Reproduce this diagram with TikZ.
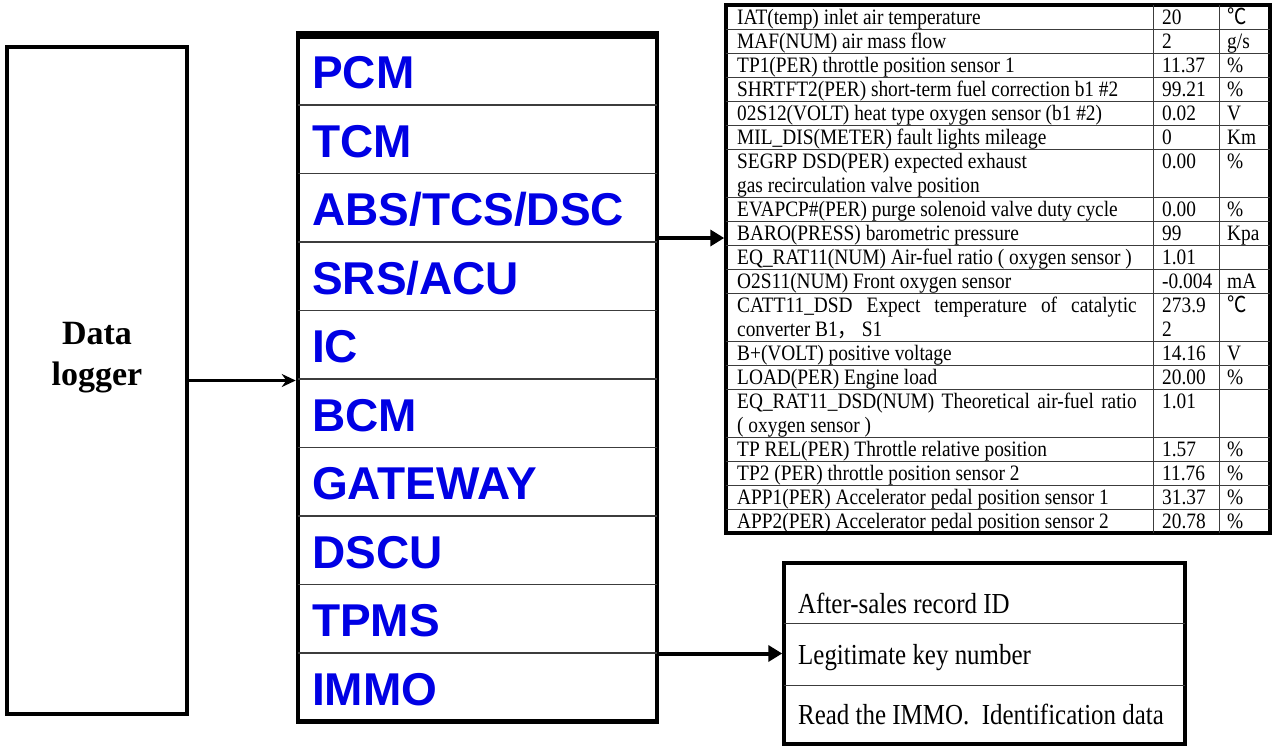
\documentclass[tikz,border=0pt]{standalone}
\usepackage{fontspec}
\setmainfont{Liberation Serif}
\newfontfamily\modfont{Liberation Sans}
\newfontfamily\cjk{Noto Sans CJK SC}
\usetikzlibrary{arrows.meta}
\definecolor{modblue}{RGB}{0,0,228}
\definecolor{rulegray}{RGB}{60,60,60}
\newcommand\nar[1]{\scalebox{0.88}[1]{#1}}
\newcommand\bnar[1]{\scalebox{0.86}[1]{#1}}
\newcommand\degc{{\cjk ℃}}
\newcommand\tabrow[5]{%
  \node[cell] (#1a) at (737,{24+24*#2}) {\nar{#3}};
  \node[cell] (#1b) at (1162,{24+24*#2}) {\nar{#4}};
  \node[cell] (#1c) at (1227,{24+24*#2}) {\nar{#5}};}
\begin{document}
\begin{tikzpicture}[x=1pt,y=-1pt,
  frame/.style={draw, line width=4pt, inner sep=0pt},
  sepline/.style={draw=rulegray, line width=1.4pt},
  thinline/.style={draw=rulegray, line width=1pt},
  modlabel/.style={anchor=base west, inner sep=0pt, text=modblue, font=\modfont\bfseries\fontsize{46}{46}\selectfont},
  cell/.style={anchor=base west, inner sep=0pt, font=\fontsize{22}{24}\selectfont},
  boxtext/.style={anchor=base west, inner sep=0pt, font=\fontsize{29}{32}\selectfont},
  dltext/.style={anchor=base, inner sep=0pt, font=\bfseries\fontsize{34}{40}\selectfont},
  bigarrow/.style={line width=4pt, -{Triangle[length=14pt,width=16pt]}},
  smallarrow/.style={line width=3.5pt, -{Stealth[length=14pt,width=13pt]}},
]
\useasboundingbox (0,0) rectangle (1272,747);

% Data logger
\node[frame, minimum width=180pt, minimum height=667pt] (dl) at (97,380.5) {};
\node[dltext] (dl1) at (97,344) {Data};
\node[dltext] (dl2) at (97,385) {logger};

% module stack
\node[frame, line width=4.5pt, minimum width=359pt, minimum height=685pt] (stack) at (477.5,379) {};
\draw[line width=7pt] (stack.north west) -- (stack.north east);
\foreach \k in {1,...,9} \draw[sepline] (298,{36.5+68.5*\k}) -- (657,{36.5+68.5*\k});
\node[modlabel] (pcm) at (312,88.5) {PCM};
\node[modlabel] (tcm) at (312,157) {TCM};
\node[modlabel] (abs) at (312,225.5) {ABS/TCS/DSC};
\node[modlabel] (srs) at (312,294) {SRS/ACU};
\node[modlabel] (ic) at (312,362.5) {IC};
\node[modlabel] (bcm) at (312,431) {BCM};
\node[modlabel] (gw) at (312,499.5) {GATEWAY};
\node[modlabel] (dscu) at (312,568) {DSCU};
\node[modlabel] (tpms) at (312,636.5) {TPMS};
\node[modlabel] (immo) at (312,705) {IMMO};

\draw[smallarrow] (dl.east) -- (dl.east -| stack.west);

% data table
\node[draw, line width=3.5pt, inner sep=0pt, minimum width=544pt, minimum height=528pt] (tbl) at (998,269) {};
\draw[thinline] (1153,5) -- (1153,533);
\draw[thinline] (1219,5) -- (1219,533);
\foreach \u in {1,2,3,4,5,6,8,9,10,11,12,14,15,16,18,19,20,21}
  \draw[thinline] (726,{5+24*\u}) -- (1270,{5+24*\u});

\tabrow{r1}{0}{IAT(temp) inlet air temperature}{20}{\degc}
\tabrow{r2}{1}{MAF(NUM) air mass flow}{2}{g/s}
\tabrow{r3}{2}{TP1(PER) throttle position sensor 1}{11.37}{\%}
\tabrow{r4}{3}{SHRTFT2(PER) short-term fuel correction b1 \#2}{99.21}{\%}
\tabrow{r5}{4}{02S12(VOLT) heat type oxygen sensor (b1 \#2)}{0.02}{V}
\tabrow{r6}{5}{MIL\_DIS(METER) fault lights mileage}{0}{Km}
\tabrow{r7}{6}{SEGRP DSD(PER) expected exhaust}{0.00}{\%}
\node[cell] (r7d) at (737,{24+24*7}) {\nar{gas recirculation valve position}};
\tabrow{r8}{8}{EVAPCP\#(PER) purge solenoid valve duty cycle}{0.00}{\%}
\tabrow{r9}{9}{BARO(PRESS) barometric pressure}{99}{Kpa}
\tabrow{r10}{10}{EQ\_RAT11(NUM) Air-fuel ratio ( oxygen sensor )}{1.01}{}
\tabrow{r11}{11}{O2S11(NUM) Front oxygen sensor}{-0.004}{mA}
\tabrow{r12}{12}{\makebox[454pt][s]{CATT11\_DSD Expect temperature of catalytic}}{273.9}{\degc}
\node[cell] (r12d) at (737,{24+24*13}) {\nar{converter B1{\cjk ，} S1}};
\node[cell] (r12e) at (1162,{24+24*13}) {\nar{2}};
\tabrow{r13}{14}{B+(VOLT) positive voltage}{14.16}{V}
\tabrow{r14}{15}{LOAD(PER) Engine load}{20.00}{\%}
\tabrow{r15}{16}{\makebox[454pt][s]{EQ\_RAT11\_DSD(NUM) Theoretical air-fuel ratio}}{1.01}{}
\node[cell] (r15d) at (737,{24+24*17}) {\nar{( oxygen sensor )}};
\tabrow{r16}{18}{TP REL(PER) Throttle relative position}{1.57}{\%}
\tabrow{r17}{19}{TP2 (PER) throttle position sensor 2}{11.76}{\%}
\tabrow{r18}{20}{APP1(PER) Accelerator pedal position sensor 1}{31.37}{\%}
\tabrow{r19}{21}{APP2(PER) Accelerator pedal position sensor 2}{20.78}{\%}

\path (tbl.west) ++(0,-31) coordinate (tin);
\draw[bigarrow] (stack.east |- tin) -- (tin);

% IMMO box
\node[frame, line width=3.5pt, minimum width=401pt, minimum height=181pt] (ids) at (984.5,653.5) {};
\draw[thinline] (784,623) -- (1185,623);
\draw[thinline] (784,685) -- (1185,685);
\node[boxtext] (id1) at (798,613) {\bnar{After-sales record ID}};
\node[boxtext] (id2) at (798,664) {\bnar{Legitimate key number}};
\node[boxtext] (id3) at (798,724) {\bnar{Read the IMMO.\ \ Identification data}};

\draw[bigarrow] (stack.east |- ids.west) -- (ids.west);
\end{tikzpicture}
\end{document}
